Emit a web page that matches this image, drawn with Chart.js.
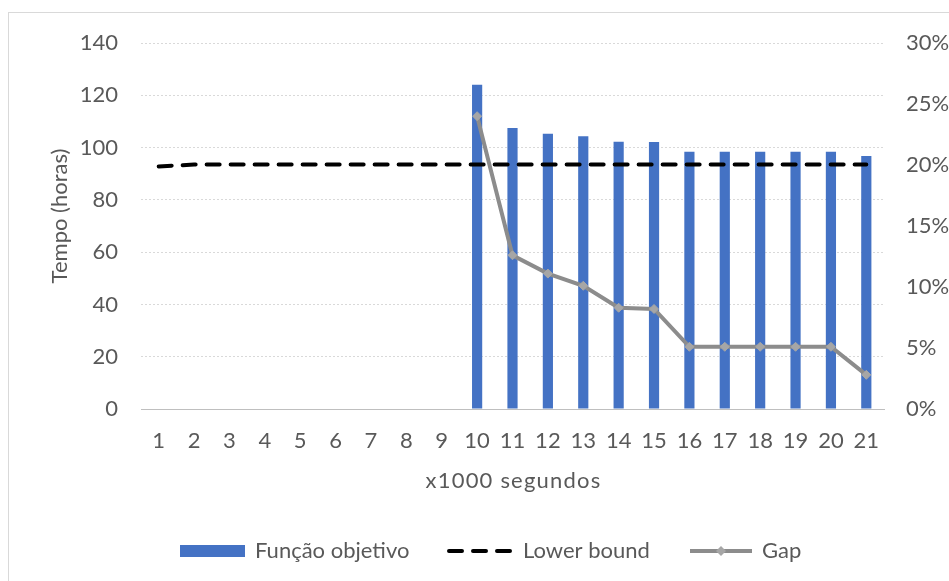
<!DOCTYPE html>
<html>
<head>
<meta charset="utf-8">
<script src="https://cdn.jsdelivr.net/npm/chart.js@4/dist/chart.umd.min.js"></script>
<style>
  html, body { margin: 0; padding: 0; background: #fff; overflow: hidden; }
  #wrap { position: relative; width: 949px; height: 581px; }
  #frame { position: absolute; left: 8px; top: 12px; width: 980px; height: 620px; border: 1px solid #d9d9d9; box-sizing: border-box; }
  canvas { position: absolute; left: 0; top: 0; }
</style>
</head>
<body>
<div id="wrap">
  <div id="frame"></div>
  <canvas id="c" width="949" height="581"></canvas>
</div>
<script>
// Time steps (x1000 seconds)
const categories = ['1','2','3','4','5','6','7','8','9','10','11','12','13','14','15','16','17','18','19','20','21'];
// Objective function value (hours); no incumbent before step 10
const funcaoObjetivo = [null,null,null,null,null,null,null,null,null,124,107.5,105.3,104.3,102.2,102.1,98.4,98.4,98.4,98.4,98.4,96.8];
// Lower bound (hours)
const lowerBound = [92.8,93.5,93.5,93.5,93.5,93.5,93.5,93.5,93.5,93.5,93.5,93.5,93.5,93.5,93.5,93.5,93.5,93.5,93.5,93.5,93.5];
// Optimality gap (fraction)
const gap = [null,null,null,null,null,null,null,null,null,0.24,0.126,0.111,0.101,0.083,0.082,0.051,0.051,0.051,0.051,0.051,0.028];
// Axis ticks
const leftTicks = [0,20,40,60,80,100,120,140];
const rightTicks = [0,0.05,0.10,0.15,0.20,0.25,0.30];
// Axis titles
const yTitle = 'Tempo (horas)';
const xTitle = 'x1000 segundos';

const FONT = 'Lato, "Open Sans", sans-serif';
const FS = 22;
const TXT = '#595959';

// Legend entries: symbol start x, label start x
const legendItems = [
  { kind: 'box', label: 'Função objetivo', sx: 180, tx: 255 },
  { kind: 'dash', label: 'Lower bound', sx: 447, tx: 523 },
  { kind: 'marker', label: 'Gap', sx: 690, tx: 762 }
];

// Axis titles and bottom legend drawn on the canvas
const annotations = {
  id: 'annotations',
  afterDraw(chart) {
    const ctx = chart.ctx;
    const area = chart.chartArea;
    ctx.save();
    ctx.font = FS + 'px ' + FONT;
    ctx.fillStyle = TXT;
    ctx.textAlign = 'center';
    ctx.textBaseline = 'middle';

    // vertical title
    ctx.save();
    ctx.translate(60, 216);
    ctx.rotate(-Math.PI / 2);
    ctx.fillText(yTitle, 0, 0);
    ctx.restore();

    // horizontal title
    ctx.save();
    ctx.letterSpacing = '1.2px';
    ctx.fillText(xTitle, (area.left + area.right) / 2 + 1, 481);
    ctx.restore();

    // legend
    const y = 551;
    legendItems.forEach(it => {
      const x = it.sx;
      if (it.kind === 'box') {
        ctx.fillStyle = '#4472C4';
        ctx.fillRect(x, y - 6, 65, 12);
      } else if (it.kind === 'dash') {
        ctx.strokeStyle = '#000';
        ctx.lineWidth = 4;
        ctx.lineCap = 'round';
        ctx.setLineDash([13, 11]);
        ctx.beginPath(); ctx.moveTo(x + 2, y); ctx.lineTo(x + 66, y); ctx.stroke();
        ctx.setLineDash([]);
      } else {
        ctx.strokeStyle = '#8c8c8c';
        ctx.lineWidth = 4;
        ctx.lineCap = 'butt';
        ctx.beginPath(); ctx.moveTo(x, y); ctx.lineTo(x + 62, y); ctx.stroke();
        ctx.fillStyle = '#a6a6a6';
        ctx.beginPath();
        ctx.moveTo(x + 31, y - 5); ctx.lineTo(x + 36, y); ctx.lineTo(x + 31, y + 5); ctx.lineTo(x + 26, y);
        ctx.closePath(); ctx.fill();
      }
      ctx.fillStyle = TXT;
      ctx.textAlign = 'left';
      ctx.fillText(it.label, it.tx, y);
    });
    ctx.restore();
  }
};

new Chart(document.getElementById('c'), {
  data: {
    labels: categories,
    datasets: [
      {
        type: 'line', label: 'Gap', data: gap, yAxisID: 'y2', order: 0,
        borderColor: '#8c8c8c', borderWidth: 4, spanGaps: false,
        pointStyle: 'rectRot', pointRadius: 4.5, pointBackgroundColor: '#a6a6a6',
        pointBorderColor: '#a6a6a6', pointBorderWidth: 1, tension: 0
      },
      {
        type: 'line', label: 'Lower bound', data: lowerBound, yAxisID: 'y', order: 1,
        borderColor: '#000', borderWidth: 4, borderDash: [13, 11], borderCapStyle: 'round',
        pointRadius: 0, tension: 0
      },
      {
        type: 'bar', label: 'Função objetivo', data: funcaoObjetivo, yAxisID: 'y', order: 2,
        backgroundColor: '#4472C4', barPercentage: 0.6, categoryPercentage: 0.48
      }
    ]
  },
  options: {
    responsive: false,
    animation: false,
    layout: { padding: { top: 43, left: 0, right: 0, bottom: 86 } },
    plugins: { legend: { display: false }, tooltip: { enabled: false } },
    scales: {
      x: {
        grid: { display: false },
        border: { display: true, color: '#bfbfbf', width: 1 },
        ticks: { color: TXT, font: { family: FONT, size: FS }, padding: 10.5, maxRotation: 0, autoSkip: false },
        afterFit(s) { s.height = 86; }
      },
      y: {
        position: 'left', min: 0, max: 140,
        afterBuildTicks(s) { s.ticks = leftTicks.map(v => ({ value: v })); },
        grid: { color: '#d9d9d9', lineWidth: 1, drawTicks: false },
        border: { display: false, dash: [2, 2] },
        ticks: { color: TXT, font: { family: FONT, size: FS }, padding: 23 },
        afterFit(s) { s.width = 141; }
      },
      y2: {
        position: 'right', min: 0, max: 0.30,
        afterBuildTicks(s) { s.ticks = rightTicks.map(v => ({ value: v })); },
        grid: { display: false, drawTicks: false },
        border: { display: false },
        ticks: { color: TXT, font: { family: FONT, size: FS }, padding: 22,
          callback: v => Math.round(v * 100) + '%' },
        afterFit(s) { s.width = 65; }
      }
    }
  },
  plugins: [annotations]
});
</script>
</body>
</html>
